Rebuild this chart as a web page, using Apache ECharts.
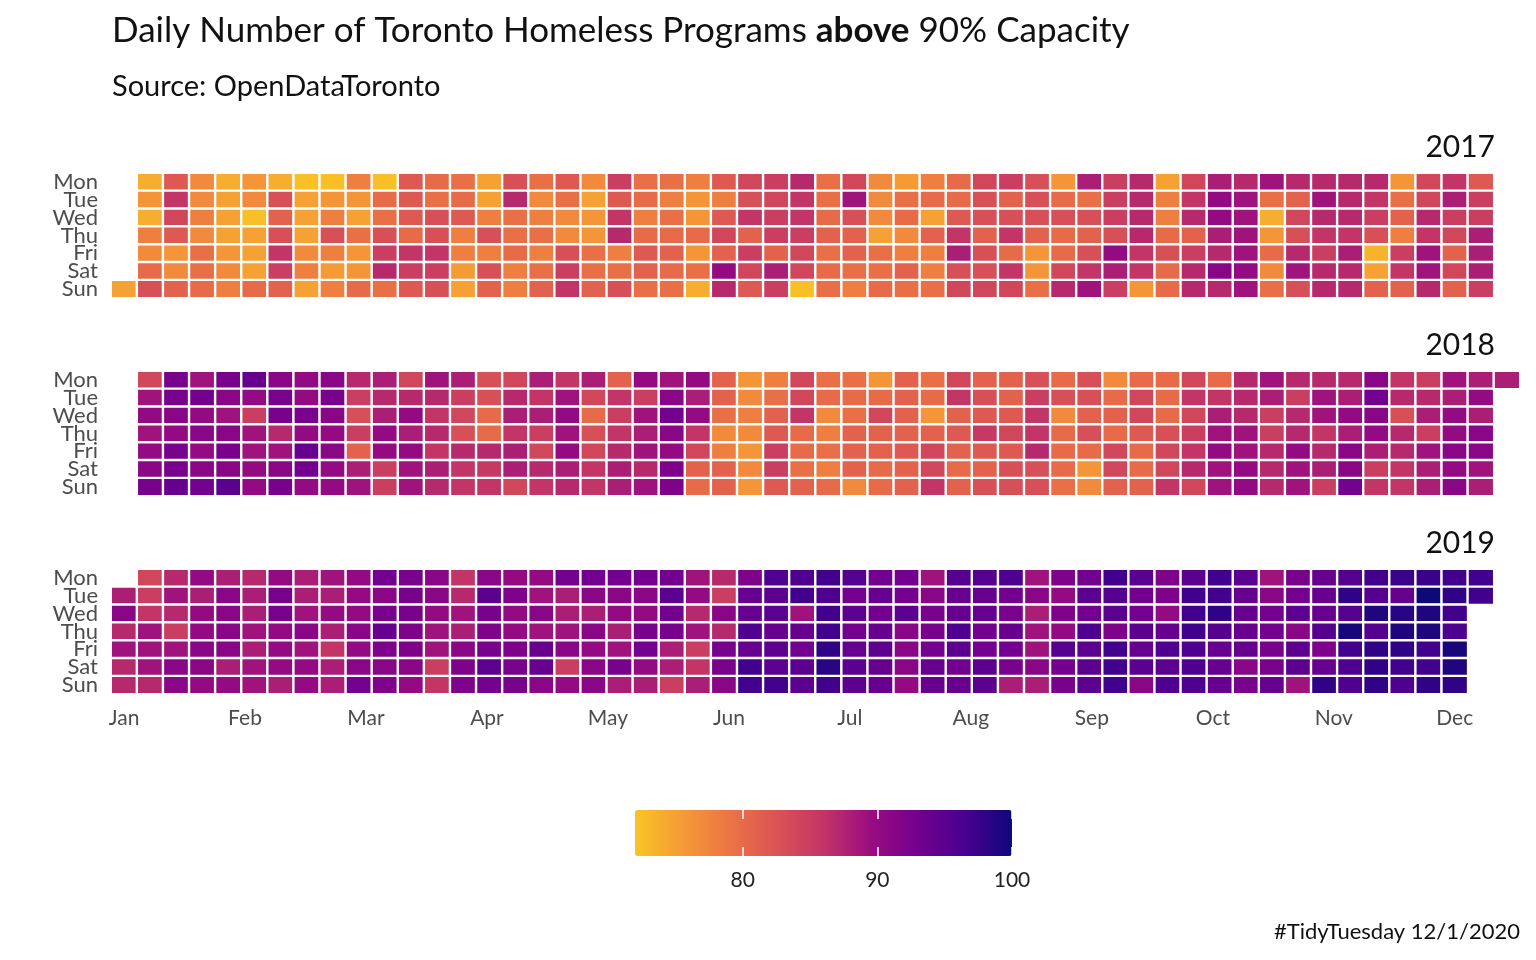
<!DOCTYPE html>
<html>
<head>
<meta charset="UTF-8">
<title>Toronto Homeless Programs above 90% Capacity</title>
<style>
  html, body { margin: 0; padding: 0; background: #fff; }
  #main { width: 1536px; height: 960px; }
</style>
</head>
<body>
<div id="main"></div>
<script src="https://cdn.jsdelivr.net/npm/echarts@6/dist/echarts.min.js"></script>
<script>
var years = ['2017', '2018', '2019'];
var days = ['Mon', 'Tue', 'Wed', 'Thu', 'Fri', 'Sat', 'Sun'];
var months = ['Jan', 'Feb', 'Mar', 'Apr', 'May', 'Jun', 'Jul', 'Aug', 'Sep', 'Oct', 'Nov', 'Dec'];
var legendTicks = [80, 90, 100];

// one row per week of the year (Monday based week number), values Mon..Sun
var occ2017 = [
  [null, null, null, null, null, null, 75],
  [74, 76, 74, 78, 77, 80, 83],
  [82, 86, 84, 82, 76, 77, 81],
  [77, 77, 78, 77, 79.5, 79.5, 80],
  [74, 75, 75, 75, 76, 77, 78],
  [76, 77, 72.5, 75, 75, 75, 80],
  [74, 83, 81, 83, 86, 85, 81],
  [72.5, 75, 75, 75, 77, 78, 75],
  [72.5, 76, 78, 83, 78, 75.5, 78],
  [78, 76, 75, 79.5, 76, 76, 80],
  [72.5, 80, 79.5, 83, 85, 87, 79.5],
  [82, 82, 82, 80, 86, 85, 82],
  [80, 79.5, 83, 83, 86, 85, 83],
  [79.5, 80, 82, 78, 78, 75.5, 75],
  [75, 75, 78, 83, 78, 83, 81],
  [83, 87, 79.5, 79.5, 80, 78, 78],
  [79.5, 77, 78, 79.5, 78, 79.5, 81],
  [82, 79.5, 77, 77, 83, 85, 86],
  [77, 75, 76, 76, 79.5, 79.5, 81],
  [85, 82, 86, 87, 78, 79.5, 83],
  [79.5, 80, 78, 80, 82, 81, 79.5],
  [79.5, 78, 79.5, 80, 81, 80, 79.5],
  [78, 76, 76, 80, 76, 79.5, 74],
  [82, 78, 82, 84, 81, 90, 87],
  [84, 83, 86, 81, 85, 84, 82],
  [85, 84, 85, 85, 81, 88, 85],
  [87, 86, 86, 85, 84, 84, 72.5],
  [79.5, 79.5, 80, 81, 79.5, 80, 79.5],
  [84, 89, 83, 81, 81, 79.5, 78],
  [77, 77, 77, 75, 79.5, 79.5, 80],
  [75.5, 79.5, 80, 77, 78, 81, 79.5],
  [78, 80, 75, 81, 78, 78, 79.5],
  [80, 80, 82, 86, 88, 83, 84],
  [84, 83, 83, 81, 83, 83, 84],
  [85, 81, 83, 86, 80, 86, 84],
  [83, 83, 83, 81, 76, 76, 79.5],
  [76, 80, 83, 80, 80, 84, 87],
  [88, 79.5, 83, 81, 83, 86, 89],
  [85, 85, 85, 83, 90, 88, 85],
  [87, 87, 87, 87, 86, 86, 76],
  [75, 78, 78, 80, 83, 80, 80],
  [84, 86, 87, 81, 85, 87, 87],
  [88, 90, 90, 88, 87, 91, 87],
  [87, 89, 89, 89, 89, 90, 89],
  [89, 79.5, 74, 76, 80, 77, 79.5],
  [87, 81, 84, 83, 87, 89, 83],
  [87, 89, 87, 86, 85, 87, 87],
  [87, 87, 87, 86, 88, 87, 87],
  [87, 86, 85, 83, 73.5, 75, 81],
  [76, 79.5, 81, 78, 85, 86, 81],
  [84, 84, 87, 86, 89, 89, 87],
  [86, 88, 85, 84, 81, 84, 81],
  [82, 85, 85, 88, 88, 88, 85]
];

var occ2018 = [
  [null, null, null, null, null, null, null],
  [84, 89, 90, 89, 90, 91, 92.5],
  [92.5, 92.5, 91, 90, 92.5, 92.5, 94],
  [89, 93, 90, 91, 90, 91, 93],
  [92.5, 91, 89, 91, 92.5, 91, 95],
  [94, 90, 85, 89, 89, 90, 90],
  [91, 92.5, 92.5, 87, 89, 91, 92.5],
  [90, 90, 92.5, 90, 94, 93, 90],
  [91, 92.5, 91, 90, 91, 90, 90],
  [87, 85, 83, 85, 81, 88, 89],
  [88, 87, 88, 90, 90, 85, 85],
  [84, 87, 90, 88, 90, 89, 89],
  [89, 87, 86, 87, 86, 88, 87],
  [88, 85, 84, 83, 87, 86, 86],
  [83, 83, 80, 80, 87, 85.5, 86],
  [84, 87, 88, 86, 88, 88, 84],
  [88, 86, 88, 85, 84, 87, 86],
  [86, 89, 90, 89, 90, 88, 87],
  [88, 84, 80, 83, 84, 86, 86],
  [81, 86, 85, 86, 87, 88, 88],
  [90, 85, 89, 88, 89, 87, 89],
  [89, 91, 93, 91, 90, 92, 92],
  [90, 88, 90, 86, 84, 81, 80],
  [81, 81, 79.5, 77, 78, 81, 81],
  [76, 77, 78, 77, 76, 77, 76],
  [78, 79.5, 81, 82, 85, 85, 82],
  [84, 84, 86, 80, 80, 79.5, 81],
  [79.5, 80, 77, 78, 79.5, 78, 80],
  [79.5, 80, 79.5, 81, 81, 81, 77],
  [76, 80, 84, 81, 81, 80, 80],
  [81, 81, 81, 81, 82, 81, 81],
  [79.5, 80, 76, 81, 84, 84, 86],
  [84, 86, 81, 82, 81, 80, 81],
  [81, 83, 82, 85.5, 82, 81, 83],
  [81, 81, 82, 84, 82, 83, 83],
  [83, 85, 86, 86, 87, 83, 83],
  [80, 83, 77, 80, 80, 80, 79.5],
  [83, 83, 81, 83, 80, 76, 77],
  [77, 80, 81, 80, 84, 84, 81],
  [80, 84, 84, 82, 80, 80, 81],
  [80, 80, 80, 83, 84, 84, 86],
  [84, 86, 84, 85, 86, 87, 84],
  [80, 86, 88, 89, 90, 89, 89],
  [87, 87, 87, 89, 89, 90, 90],
  [89, 88, 85, 85, 87, 87, 87],
  [87, 85, 87, 87, 90, 89, 89],
  [87, 89, 89, 86, 87, 88, 85],
  [87, 88, 90, 88, 91, 91, 93],
  [91, 93, 91, 90, 88, 85, 86],
  [86, 87, 83, 87, 87, 86, 86],
  [85, 87, 88, 85, 89, 88, 88],
  [89, 88, 90, 90, 91, 90, 91],
  [88, 90, 88, 91, 91, 89, 88],
  [88, null, null, null, null, null, null]
];

var occ2019 = [
  [null, 88, 91, 87, 89, 87, 87],
  [84, 85, 86, 89, 89, 89, 87],
  [87, 89, 87, 85, 89, 91, 91],
  [90, 88, 90, 90, 91, 91, 90],
  [88, 91, 91, 91, 91, 88, 90],
  [87, 88, 88, 89, 88, 89, 89],
  [90, 92.5, 92.5, 90, 90, 90, 88],
  [88, 88, 89, 91, 89, 90, 90],
  [89, 88, 90, 88, 86, 88, 88],
  [90, 90, 90, 91, 90, 91, 93],
  [93, 91, 92.5, 94, 92, 91, 92],
  [92.5, 92.5, 92.5, 92, 92, 91, 90],
  [91, 91, 90, 89, 89, 85, 86],
  [86, 87, 89, 88, 91, 92, 92],
  [91, 95, 92.5, 92, 92.5, 95, 93],
  [90, 92, 90, 90, 92, 92.5, 92.5],
  [90, 89, 91, 89, 94, 94, 91],
  [93, 88, 88, 89, 91, 85, 90],
  [93, 91, 88, 91, 90, 91, 91],
  [93, 91, 90, 88, 89, 92.5, 88],
  [93, 91, 90, 92.5, 93, 90, 88],
  [93, 95, 93, 92.5, 88, 88, 85],
  [89, 90, 87, 89, 85, 86, 88],
  [87, 85, 91, 87, 92.5, 92.5, 91],
  [92, 94, 94, 96, 94, 97, 97],
  [96, 95, 95, 94, 95, 95, 97],
  [96, 97, 89, 94, 93, 95, 95],
  [97, 96, 97, 97, 98, 98.5, 97],
  [95.5, 93, 95, 93, 94, 95, 95],
  [93, 94, 93, 94, 95, 94, 94],
  [93, 93, 95, 91, 91, 91, 90],
  [89, 91, 92.5, 92.5, 93, 94, 94],
  [95.5, 94, 94, 96, 95, 93, 94],
  [95.5, 94, 94, 93, 93, 95, 95],
  [96, 93, 92.5, 94, 93, 92.5, 88],
  [89, 91, 88, 89, 89, 91, 88],
  [92, 90, 92, 90, 95.5, 93, 92.5],
  [93, 95, 93, 96, 95, 95, 95],
  [97, 95.5, 95, 92, 97, 97, 97],
  [95, 93, 93, 95, 94, 95, 91],
  [92, 92, 90, 94, 96, 95, 96],
  [95, 97, 97, 97, 96, 96, 96],
  [97, 97, 98, 95.5, 94, 94, 94],
  [95, 94, 94, 94, 94, 91, 92.5],
  [89, 91, 93, 93, 92.5, 92.5, 94],
  [92.5, 93, 95, 91, 95, 95, 89],
  [94, 94, 94, 95.5, 92, 94, 98],
  [95.5, 98, 95.5, 99.5, 97, 96, 96],
  [97, 95.5, 99, 95.5, 98, 98, 98],
  [97.5, 94, 98.5, 99, 98, 97, 96],
  [97.5, 100, 99, 99, 97, 97, 98],
  [97, 98, 97, 96, 99.5, 99, 98],
  [97, 97, null, null, null, null, null]
];

var occupancy = [occ2017, occ2018, occ2019];

// plasma, yellow end at 72 through to dark blue at 100
var plasma = ['#f9c525', '#f59b36', '#ec7445', '#da5454', '#c23566', '#9a0c80', '#73008e', '#4a0090', '#0e0878'];

var font = 'Lato';
var gridTops = [173, 371, 569];
var weeks = [];
for (var w = 0; w < 54; w++) weeks.push(String(w));

var grids = [], xAxes = [], yAxes = [], series = [], titles = [];

titles.push({
  text: 'Daily Number of Toronto Homeless Programs {b|above} 90% Capacity',
  left: 112, top: 13, padding: 0,
  textStyle: {
    fontFamily: font, fontSize: 35, fontWeight: 'normal', color: '#111',
    rich: { b: { fontFamily: font, fontSize: 35, fontWeight: 'bold', color: '#111' } }
  }
});
titles.push({
  text: 'Source: OpenDataToronto',
  left: 112, top: 72, padding: 0,
  textStyle: { fontFamily: font, fontSize: 29, fontWeight: 'normal', color: '#111' }
});
titles.push({
  text: '#TidyTuesday 12/1/2020',
  right: 16, top: 921, padding: 0,
  textStyle: { fontFamily: font, fontSize: 22, fontWeight: 'normal', color: '#111' }
});

for (var i = 0; i < years.length; i++) {
  grids.push({ left: 111, width: 1409, top: gridTops[i], height: 125 });
  xAxes.push({
    type: 'category', gridIndex: i, data: weeks,
    axisLine: { show: false }, axisTick: { show: false }, axisLabel: { show: false },
    splitLine: { show: false }
  });
  yAxes.push({
    type: 'category', gridIndex: i, data: days, inverse: true,
    axisLine: { show: false }, axisTick: { show: false },
    axisLabel: { interval: 0, fontFamily: font, fontSize: 22, color: '#4d4d4d', margin: 13, lineHeight: 18 }
  });
  titles.push({
    text: years[i], right: 41, top: gridTops[i] - 41, padding: 0,
    textStyle: { fontFamily: font, fontSize: 30, fontWeight: 'normal', color: '#111' }
  });

  var cells = [];
  var rows = occupancy[i];
  for (var k = 0; k < rows.length; k++) {
    for (var d = 0; d < 7; d++) {
      if (rows[k][d] != null) cells.push([k, d, rows[k][d]]);
    }
  }
  series.push({
    name: years[i], type: 'heatmap',
    xAxisIndex: i, yAxisIndex: i,
    data: cells,
    itemStyle: { borderColor: '#fff', borderWidth: 2.4 },
    emphasis: { disabled: true }
  });
}

// month labels under the last panel, evenly spread from week 0 to week 51
var monthPos = months.map(function (m, j) { return j * 51 / 11; });
xAxes.push({
  type: 'value', gridIndex: 2, position: 'bottom', min: -0.5, max: 53.5,
  axisLine: { show: false }, axisTick: { show: false }, splitLine: { show: false },
  axisLabel: {
    customValues: monthPos, fontFamily: font, fontSize: 21, color: '#4d4d4d', margin: 14,
    formatter: function (v) { return months[Math.round(v * 11 / 51)]; }
  }
});

// axis for the colour bar
grids.push({ left: 635, width: 377, top: 810, height: 46 });
xAxes.push({
  type: 'value', gridIndex: 3, position: 'bottom', min: 72, max: 100, z: 10,
  axisLine: { show: false }, splitLine: { show: false },
  axisTick: { show: true, inside: true, length: 9, customValues: legendTicks, lineStyle: { color: '#fff', width: 1.5 } },
  axisLabel: { customValues: legendTicks, fontFamily: font, fontSize: 21, color: '#222', margin: 14 }
});
xAxes.push({
  type: 'value', gridIndex: 3, position: 'top', min: 72, max: 100, z: 10,
  axisLine: { show: false }, splitLine: { show: false },
  axisTick: { show: true, inside: true, length: 9, customValues: legendTicks, lineStyle: { color: '#fff', width: 1.5 } },
  axisLabel: { show: false }
});
yAxes.push({ type: 'value', gridIndex: 3, show: false, min: 0, max: 1 });

var myChart = echarts.init(document.getElementById('main'));
var option = {
  backgroundColor: '#fff',
  animation: false,
  title: titles,
  grid: grids,
  xAxis: xAxes,
  yAxis: yAxes,
  visualMap: {
    type: 'continuous', min: 72, max: 100, seriesIndex: [0, 1, 2],
    orient: 'horizontal', left: 635, top: 810, padding: 0,
    itemWidth: 46, itemHeight: 377, calculable: false, hoverLink: false,
    inRange: { color: plasma }
  },
  series: series
};
myChart.setOption(option);
</script>
</body>
</html>
